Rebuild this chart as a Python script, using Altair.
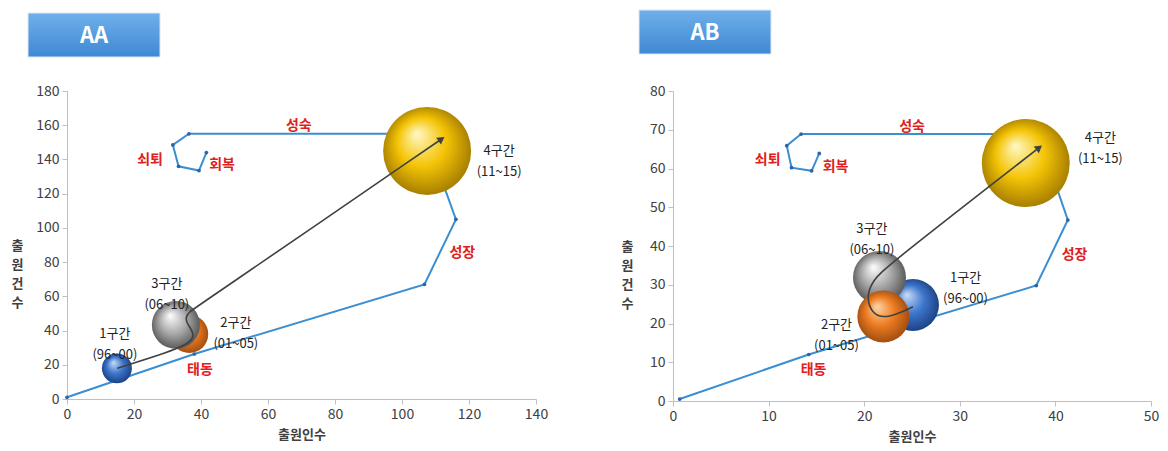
import math
import altair as alt
import pandas as pd

# ---------------- data: panel AA ----------------
aa_title = "AA"
aa_path_x = [0, 38, 106.7, 116.1, 106.9, 36.4, 31.6, 33.3, 39.4, 41.6]
aa_path_y = [1, 26.3, 67, 105, 155, 155, 148.5, 136, 133.5, 144]
aa_bub_name = ["1구간", "2구간", "3구간", "4구간"]
aa_bub_x = [14.9, 36.5, 32.5, 107.5]
aa_bub_y = [17.9, 38, 43.3, 145]
aa_bub_val = [11.6, 18.6, 29.8, 100]
aa_bub_order = [0, 1, 2, 3]
aa_lab_text = ["1구간\n(96~00)", "2구간\n(01~05)", "3구간\n(06~10)", "4구간\n(11~15)"]
aa_lab_x = [14.3, 50.4, 29.8, 129]
aa_lab_y = [38.1, 44.2, 67.5, 145]
aa_stage_text = ["태동", "성장", "성숙", "쇠퇴", "회복"]
aa_stage_x = [39.7, 118, 69.2, 24.8, 46.3]
aa_stage_y = [17, 85.2, 159.3, 139.8, 136.8]
aa_arrow_x = [15, 36.5, 38.3, 36.0, 35.3, 36.5, 38.5, 111.5]
aa_arrow_y = [18, 31, 37.5, 43.5, 47.5, 51.0, 53.5, 151.5]

# ---------------- data: panel AB ----------------
ab_title = "AB"
ab_path_x = [0.7, 14.2, 38.0, 41.3, 38.2, 13.4, 11.9, 12.4, 14.5, 15.3]
ab_path_y = [0.5, 12.0, 29.8, 46.7, 68.9, 68.9, 65.9, 60.2, 59.4, 63.9]
ab_bub_name = ["1구간", "2구간", "3구간", "4구간"]
ab_bub_x = [25.1, 22.0, 21.6, 36.9]
ab_bub_y = [24.8, 21.8, 31.9, 61.4]
ab_bub_val = [34.9, 34.9, 36.3, 100]
ab_bub_order = [3, 0, 2, 1]
ab_lab_text = ["1구간\n(96~00)", "2구간\n(01~05)", "3구간\n(06~10)", "4구간\n(11~15)"]
ab_lab_x = [30.6, 17.1, 20.8, 44.7]
ab_lab_y = [31.7, 19.6, 44.5, 67.8]
ab_stage_text = ["태동", "성장", "성숙", "쇠퇴", "회복"]
ab_stage_x = [14.7, 42, 25, 9.9, 17]
ab_stage_y = [8, 37.7, 70.8, 62.2, 60.5]
ab_arrow_x = [25.1, 22.5, 20.8, 20.2, 21.0, 22.1, 38.2]
ab_arrow_y = [24.3, 21.3, 22.2, 27.4, 31.2, 34.3, 65.2]

FONT = "Noto Sans CJK KR"
BLUE = "#3A8ED2"
DOT = "#2A65A8"
RED = "#E02020"
DARK = "#404040"

BUB_STOPS = [
    ["#C9DDF8", "#3D76CC", "#173A7A"],   # 1구간 blue
    ["#FFD6A8", "#EC7C22", "#98470E"],   # 2구간 orange
    ["#FFFFFF", "#ABABAB", "#4E4E4E"],   # 3구간 gray
    ["#FFF8C8", "#F4C406", "#9C7400"],   # 4구간 yellow
]


def grad(stops):
    return alt.Gradient(
        gradient="radial", x1=0.38, y1=0.3, r1=0.0, x2=0.5, y2=0.5, r2=0.55,
        stops=[alt.GradientStop(color=stops[0], offset=0),
               alt.GradientStop(color=stops[1], offset=0.5),
               alt.GradientStop(color=stops[2], offset=1)])


def panel(title, W, H, xmax, xstep, ymax, ystep, tx, box,
          px, py, bn, bx, by, bv, border, lt, lx, ly, st, sx, sy, ax, ay):
    xs = alt.Scale(domain=[0, xmax], nice=False)
    ys = alt.Scale(domain=[0, ymax], nice=False)
    xaxis = alt.Axis(values=list(range(0, xmax + 1, xstep)), title="출원인수", grid=False,
                     domainColor="#BFBFBF", tickColor="#BFBFBF", tickSize=5,
                     labelFont=FONT, labelFontSize=14, labelColor=DARK, labelPadding=3,
                     labelFlush=False,
                     titleFont=FONT, titleFontSize=13, titleFontWeight="bold",
                     titleColor=DARK, titlePadding=7)
    yaxis = alt.Axis(values=list(range(0, ymax + 1, ystep)), title=["출", "원", "건", "수"],
                     grid=False, domainColor="#BFBFBF", tickColor="#BFBFBF", tickSize=5,
                     labelFont=FONT, labelFontSize=14, labelColor=DARK, labelPadding=3,
                     labelFlush=False,
                     titleFont=FONT, titleFontSize=13, titleFontWeight="bold",
                     titleColor=DARK, titleAngle=0, titleAlign="center",
                     titleBaseline="middle", titleLineHeight=19,
                     titleX=tx, titleY=H / 2)
    X = lambda f: alt.X(f, type="quantitative", scale=xs, axis=xaxis)
    Y = lambda f: alt.Y(f, type="quantitative", scale=ys, axis=yaxis)

    path = pd.DataFrame({"x": px, "y": py, "i": range(len(px))})
    bub = pd.DataFrame({"name": bn, "x": bx, "y": by, "v": bv, "i": range(len(bn))})
    lab = pd.DataFrame({"t": lt, "x": lx, "y": ly})
    stg = pd.DataFrame({"t": st, "x": sx, "y": sy})
    arr = pd.DataFrame({"x": ax, "y": ay, "i": range(len(ax))})
    # arrow head direction from last segment, in pixels
    dxp = (ax[-1] - ax[-2]) * W / xmax
    dyp = (ay[-1] - ay[-2]) * H / ymax
    ang = math.degrees(math.atan2(dxp, dyp))
    head = pd.DataFrame({"x": [ax[-1]], "y": [ay[-1]], "a": [ang]})
    tdf = pd.DataFrame({"t": [title]})

    bx0, bx1, by0, by1 = box
    box_rect = alt.Chart(tdf).mark_rect(
        fill=alt.Gradient(gradient="linear", x1=0, y1=0, x2=0, y2=1,
                          stops=[alt.GradientStop(color="#6FB0EA", offset=0),
                                 alt.GradientStop(color="#3F88D4", offset=1)]),
        stroke="#DDE8F4", strokeWidth=1
    ).encode(x=alt.value(bx0), x2=alt.value(bx1), y=alt.value(by0), y2=alt.value(by1))
    box_text = alt.Chart(tdf).mark_text(
        font=FONT, fontSize=22, fontWeight="bold", color="white", align="center",
        baseline="middle"
    ).encode(x=alt.value((bx0 + bx1) / 2), y=alt.value((by0 + by1) / 2 + 1), text="t:N")

    line = alt.Chart(path).mark_line(color=BLUE, strokeWidth=2).encode(
        x=X("x"), y=Y("y"), order="i:Q")
    dots = alt.Chart(path).mark_point(filled=True, color=DOT, size=14, opacity=1).encode(
        x=X("x"), y=Y("y"))

    size = alt.Size("v:Q", scale=alt.Scale(domain=[0, 100], range=[0, 7744]), legend=None)
    bubbles = []
    for k in border:
        bubbles.append(
            alt.Chart(bub).transform_filter(alt.datum.i == k).mark_circle(
                fill=grad(BUB_STOPS[k]), opacity=1, strokeWidth=0
            ).encode(x=X("x"), y=Y("y"), size=size))

    arrow = alt.Chart(arr).mark_line(color=DARK, strokeWidth=1.6, interpolate="basis").encode(
        x=X("x"), y=Y("y"), order="i:Q")
    arrowhead = alt.Chart(head).mark_point(shape="triangle", filled=True, color=DARK,
                                           size=70, opacity=1).encode(
        x=X("x"), y=Y("y"), angle=alt.Angle("a:Q", scale=None))

    labels = alt.Chart(lab).mark_text(font=FONT, fontSize=13, color="#222222",
                                      lineBreak="\n", lineHeight=21,
                                      align="center", baseline="middle").encode(
        x=X("x"), y=Y("y"), text="t:N")
    stages = alt.Chart(stg).mark_text(font=FONT, fontSize=14, fontWeight="bold", color=RED,
                                      align="center", baseline="middle").encode(
        x=X("x"), y=Y("y"), text="t:N")

    return alt.layer(box_rect, box_text, line, dots, *bubbles, arrow, arrowhead,
                     labels, stages).properties(width=W, height=H)


left = panel(aa_title, 469, 308, 140, 20, 180, 20, -50, (-39, 93, -78, -34),
             aa_path_x, aa_path_y, aa_bub_name, aa_bub_x, aa_bub_y, aa_bub_val, aa_bub_order,
             aa_lab_text, aa_lab_x, aa_lab_y, aa_stage_text, aa_stage_x, aa_stage_y,
             aa_arrow_x, aa_arrow_y)
right = panel(ab_title, 478, 310, 50, 10, 80, 10, -46, (-34, 98, -81, -37),
              ab_path_x, ab_path_y, ab_bub_name, ab_bub_x, ab_bub_y, ab_bub_val, ab_bub_order,
              ab_lab_text, ab_lab_x, ab_lab_y, ab_stage_text, ab_stage_x, ab_stage_y,
              ab_arrow_x, ab_arrow_y)

chart = alt.hconcat(left, right, spacing=73).properties(
    padding={"left": 3, "top": 1, "right": 0, "bottom": 0}
).configure(font=FONT, background="white").configure_view(strokeWidth=0, stroke="transparent")

chart.save("out.html", embed_options={"renderer": "svg", "actions": False})
